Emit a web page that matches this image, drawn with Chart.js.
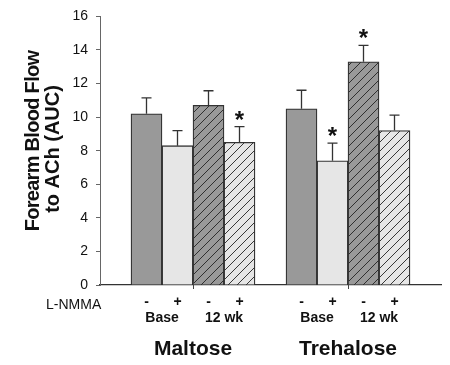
<!DOCTYPE html>
<html>
<head>
<meta charset="utf-8">
<script src="https://cdn.jsdelivr.net/npm/chart.js@4"></script>
<style>
  body { margin: 0; background: #fff; }
  #wrap { width: 450px; height: 365px; }
</style>
</head>
<body>
<div id="wrap"><canvas id="chart" width="450" height="365"></canvas></div>
<script>
// data
let groups = ["Maltose", "Trehalose"];
let periods = ["Base", "12 wk"];
let lnmma = ["-", "+", "-", "+"];
let yTicks = [0, 2, 4, 6, 8, 10, 12, 14, 16];

let maltose = [10.2, 8.3, 10.7, 8.5];
let maltoseErr = [0.95, 0.9, 0.87, 0.93];
let trehalose = [10.5, 7.4, 13.3, 9.2];
let trehaloseErr = [1.1, 1.05, 0.97, 0.92];
let maltoseSig = [false, false, false, true];
let trehaloseSig = [false, true, true, false];

const FONT = "'Liberation Sans', Arial, sans-serif";

function hatch(bg) {
    let c = document.createElement("canvas");
    c.width = 9; c.height = 9;
    let g = c.getContext("2d");
    g.fillStyle = bg;
    g.fillRect(0, 0, 9, 9);
    g.strokeStyle = "#222";
    g.lineWidth = 0.9;
    g.beginPath();
    g.moveTo(-1, 10); g.lineTo(10, -1);
    g.moveTo(-1, 1); g.lineTo(1, -1);
    g.moveTo(8, 10); g.lineTo(10, 8);
    g.stroke();
    return document.getElementById("chart").getContext("2d").createPattern(c, "repeat");
}

let fills = ["#999999", "#e6e6e6", hatch("#999999"), hatch("#e6e6e6")];

// 11 slots: gap, 4 bars, gap, 4 bars, gap
let labels = [], values = [], errs = [], sigs = [], colors = [];
function pushGap() { labels.push(""); values.push(null); errs.push(null); sigs.push(false); colors.push("transparent"); }
pushGap();
maltose.forEach((v, i) => { labels.push("M" + i); values.push(v); errs.push(maltoseErr[i]); sigs.push(maltoseSig[i]); colors.push(fills[i]); });
pushGap();
trehalose.forEach((v, i) => { labels.push("T" + i); values.push(v); errs.push(trehaloseErr[i]); sigs.push(trehaloseSig[i]); colors.push(fills[i]); });
pushGap();

const extras = {
    id: "extras",
    afterDatasetsDraw(chart) {
        let ctx = chart.ctx;
        let y = chart.scales.y;
        let meta = chart.getDatasetMeta(0);
        ctx.save();
        ctx.strokeStyle = "#333";
        ctx.lineWidth = 1.3;
        values.forEach((v, i) => {
            if (v === null) return;
            let bar = meta.data[i];
            let top = y.getPixelForValue(v + errs[i]);
            ctx.beginPath();
            ctx.moveTo(bar.x, bar.y);
            ctx.lineTo(bar.x, top);
            ctx.moveTo(bar.x - 5, top);
            ctx.lineTo(bar.x + 5, top);
            ctx.stroke();
            if (sigs[i]) {
                ctx.fillStyle = "#111";
                ctx.font = "bold 24px " + FONT;
                ctx.textAlign = "center";
                ctx.textBaseline = "alphabetic";
                ctx.fillText("*", bar.x, top + 1);
            }
        });
        ctx.restore();
    },
    afterDraw(chart) {
        let ctx = chart.ctx;
        let x = chart.scales.x;
        let area = chart.chartArea;
        ctx.save();
        // group ticks on x axis
        ctx.strokeStyle = "#444";
        ctx.lineWidth = 1;
        [2.5, 7.5].forEach(p => {
            let px = Math.round((x.getPixelForValue(Math.floor(p)) + x.getPixelForValue(Math.ceil(p))) / 2) + 0.5;
            ctx.beginPath();
            ctx.moveTo(px, area.bottom - 4);
            ctx.lineTo(px, area.bottom + 4);
            ctx.stroke();
        });
        ctx.fillStyle = "#111";
        ctx.textBaseline = "alphabetic";
        ctx.textAlign = "left";
        ctx.font = "14px " + FONT;
        ctx.fillText("L-NMMA", 46, 309);
        groups.forEach((g, gi) => {
            let start = 1 + gi * 5;
            ctx.textAlign = "center";
            ctx.font = "bold 14px " + FONT;
            lnmma.forEach((s, i) => {
                ctx.fillText(s, x.getPixelForValue(start + i), 306);
            });
            periods.forEach((p, pi) => {
                let cx = (x.getPixelForValue(start + pi * 2) + x.getPixelForValue(start + pi * 2 + 1)) / 2;
                ctx.fillText(p, cx, 322);
            });
            let gx = (x.getPixelForValue(start + 1) + x.getPixelForValue(start + 2)) / 2;
            ctx.font = "bold 21px " + FONT;
            ctx.fillText(g, gx, 355);
        });
        // y title
        ctx.font = "bold 20px " + FONT;
        ctx.textAlign = "center";
        ctx.save();
        ctx.translate(39, 141);
        ctx.rotate(-Math.PI / 2);
        ctx.letterSpacing = "-0.7px";
        ctx.fillText("Forearm Blood Flow", 0, 0);
        ctx.restore();
        ctx.save();
        ctx.translate(59, 149);
        ctx.rotate(-Math.PI / 2);
        ctx.fillText("to ACh (AUC)", 0, 0);
        ctx.restore();
        ctx.restore();
    }
};

new Chart(document.getElementById("chart"), {
    type: "bar",
    data: {
        labels: labels,
        datasets: [{
            data: values,
            backgroundColor: colors,
            borderColor: "#333",
            borderWidth: 1.3,
            barPercentage: 1,
            categoryPercentage: 1
        }]
    },
    options: {
        responsive: false,
        animation: false,
        layout: { padding: { top: 16, right: 9, bottom: 80, left: 0 } },
        plugins: { legend: { display: false }, tooltip: { enabled: false } },
        scales: {
            x: {
                ticks: { display: false },
                grid: { display: false },
                border: { display: true, color: "#333", width: 1.3 },
                afterFit(s) { s.height = 0; }
            },
            y: {
                min: 0,
                max: 16,
                afterBuildTicks(s) { s.ticks = yTicks.map(v => ({ value: v })); },
                ticks: { color: "#111", font: { size: 14, family: FONT }, padding: 8 },
                grid: { drawOnChartArea: false, drawTicks: true, tickLength: 4, color: "#666" },
                border: { display: true, color: "#666", width: 1 },
                afterFit(s) { s.width = 100; }
            }
        }
    },
    plugins: [extras]
});
</script>
</body>
</html>
